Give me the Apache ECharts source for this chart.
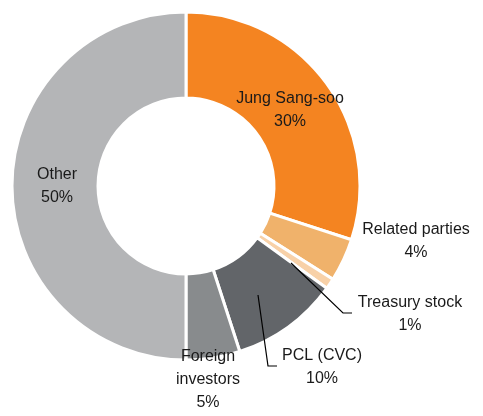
<!DOCTYPE html>
<html>
<head>
<meta charset="utf-8">
<script src="https://cdn.jsdelivr.net/npm/echarts@6/dist/echarts.min.js"></script>
<style>
  html, body { margin: 0; padding: 0; background: #fff; }
  #chart { width: 483px; height: 416px; }
</style>
</head>
<body>
<div id="chart"></div>
<script>
// shareholders, clockwise from 12 o'clock
var holders = ['Jung Sang-soo', 'Related parties', 'Treasury stock', 'PCL (CVC)', 'Foreign\ninvestors', 'Other'];
var shares = [30, 4, 1, 10, 5, 50];
var colors = ['#F48421', '#F0B26B', '#F8D1A8', '#626569', '#888B8D', '#B4B5B7'];

// label placement (text centre), by slice
var labelPos = [
    { x: 290, y: 110 },
    { x: 416, y: 241 },
    { x: 410, y: 314 },
    { x: 322, y: 367 },
    { x: 208, y: 380 },
    { x: 57, y: 186 }
];
// leader lines for the two small callouts
var leaders = [
    [[291, 263], [343, 313], [352, 313]],
    [[258, 295], [268, 366], [277, 366]]
];

var myChart = echarts.init(document.getElementById('chart'));

var data = [];
for (var i = 0; i < holders.length; i++) {
    data.push({
        name: holders[i],
        value: shares[i],
        itemStyle: { color: colors[i] }
    });
}

var graphics = [];
for (var j = 0; j < leaders.length; j++) {
    graphics.push({
        type: 'polyline',
        z: 10,
        shape: { points: leaders[j] },
        style: { stroke: '#000', lineWidth: 1.2, fill: null }
    });
}

var options = {
    animation: false,
    graphic: graphics,
    series: [{
        type: 'pie',
        center: [186, 186],
        radius: [88, 174],
        startAngle: 90,
        clockwise: true,
        avoidLabelOverlap: false,
        itemStyle: {
            borderColor: '#ffffff',
            borderWidth: 3
        },
        label: {
            show: true,
            position: 'outside',
            formatter: '{b}\n{c}%',
            color: '#1a1a1a',
            fontFamily: "'Liberation Sans', Arial, sans-serif",
            fontSize: 16,
            lineHeight: 23,
            align: 'center'
        },
        labelLine: { show: false },
        labelLayout: function (params) {
            var p = labelPos[params.dataIndex];
            return {
                x: p.x,
                y: p.y,
                align: 'center',
                verticalAlign: 'middle'
            };
        },
        emphasis: { disabled: true },
        data: data
    }]
};

myChart.setOption(options, true);
</script>
</body>
</html>
